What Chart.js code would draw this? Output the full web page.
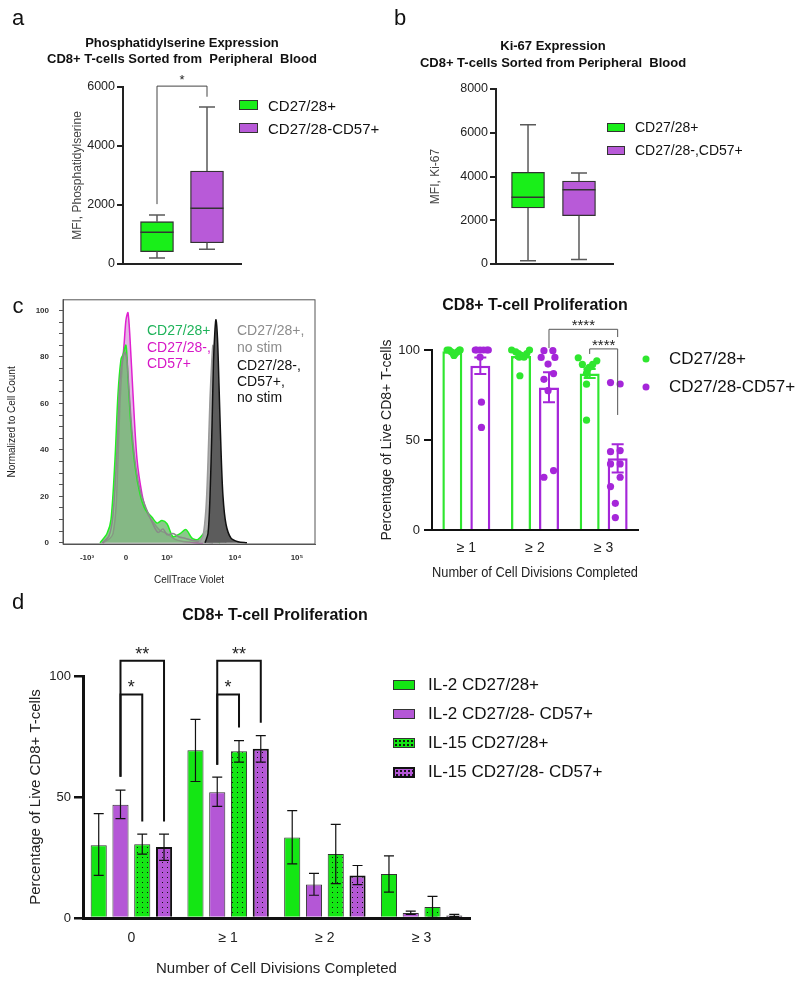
<!DOCTYPE html>
<html>
<head>
<meta charset="utf-8">
<script src="https://cdn.jsdelivr.net/npm/chart.js@4.4.1/dist/chart.umd.min.js"></script>
<style>
  body { margin: 0; background: #fff; font-family: "Liberation Sans", Arial, sans-serif; }
  #page { position: relative; width: 800px; height: 983px; overflow: hidden; }
  canvas { position: absolute; }
  .t { position: absolute; white-space: pre; transform: translate(-50%, -50%); color: #111; }
  .l { position: absolute; white-space: pre; transform: translateY(-50%); color: #111; }
  .sw { position: absolute; box-sizing: border-box; border: 1px solid #333; }
  .dot { position: absolute; width: 7px; height: 7px; border-radius: 50%; transform: translate(-50%, -50%); }
</style>
</head>
<body>
<div id="page">
  <canvas id="ps" width="400" height="280" style="left:0;top:0"></canvas>
  <canvas id="ki" width="400" height="280" style="left:400px;top:0"></canvas>
  <canvas id="hist" width="330" height="305" style="left:0;top:285px"></canvas>
  <canvas id="prolif" width="460" height="305" style="left:340px;top:285px"></canvas>
  <canvas id="donors" width="460" height="305" style="left:340px;top:285px"></canvas>
  <canvas id="cyto" width="800" height="393" style="left:0;top:590px"></canvas>

  <!-- panel letters -->
  <div class="t" style="left:18px;top:18px;font-size:22px">a</div>
  <div class="t" style="left:400px;top:18px;font-size:22px">b</div>
  <div class="t" style="left:18px;top:306px;font-size:22px">c</div>
  <div class="t" style="left:18px;top:602px;font-size:22px">d</div>

  <!-- titles -->
  <div class="t" style="left:182px;top:42px;font-size:13px;font-weight:bold">Phosphatidylserine Expression</div>
  <div class="t" style="left:182px;top:58px;font-size:13px;font-weight:bold">CD8+ T-cells Sorted from  Peripheral  Blood</div>
  <div class="t" style="left:553px;top:45px;font-size:13px;font-weight:bold">Ki-67 Expression</div>
  <div class="t" style="left:553px;top:62px;font-size:13px;font-weight:bold">CD8+ T-cells Sorted from Peripheral  Blood</div>
  <div class="t" style="left:535px;top:305px;font-size:16px;font-weight:bold">CD8+ T-cell Proliferation</div>
  <div class="t" style="left:275px;top:615px;font-size:16px;font-weight:bold">CD8+ T-cell Proliferation</div>

  <!-- legends a / b -->
  <div class="sw" style="left:239px;top:100px;width:19px;height:10px;background:#19ef19"></div>
  <div class="l" style="left:268px;top:105px;font-size:15px">CD27/28+</div>
  <div class="sw" style="left:239px;top:123px;width:19px;height:10px;background:#b85ad8"></div>
  <div class="l" style="left:268px;top:128px;font-size:15px">CD27/28-CD57+</div>

  <div class="sw" style="left:607px;top:123px;width:18px;height:9px;background:#19ef19"></div>
  <div class="l" style="left:635px;top:127px;font-size:14px">CD27/28+</div>
  <div class="sw" style="left:607px;top:146px;width:18px;height:9px;background:#b85ad8"></div>
  <div class="l" style="left:635px;top:150px;font-size:14px">CD27/28-,CD57+</div>

  <!-- histogram labels -->
  <div class="l" style="left:147px;top:330px;font-size:14px;color:#1fb35a">CD27/28+</div>
  <div class="l" style="left:147px;top:347px;font-size:14px;color:#d616c6">CD27/28-,</div>
  <div class="l" style="left:147px;top:363px;font-size:14px;color:#d616c6">CD57+</div>
  <div class="l" style="left:237px;top:330px;font-size:14px;color:#8c8c8c">CD27/28+,</div>
  <div class="l" style="left:237px;top:347px;font-size:14px;color:#8c8c8c">no stim</div>
  <div class="l" style="left:237px;top:365px;font-size:14px">CD27/28-,</div>
  <div class="l" style="left:237px;top:381px;font-size:14px">CD57+,</div>
  <div class="l" style="left:237px;top:397px;font-size:14px">no stim</div>

  <!-- legend c right -->
  <div class="dot" style="left:646px;top:359px;background:#2fe62f"></div>
  <div class="l" style="left:669px;top:359px;font-size:17px">CD27/28+</div>
  <div class="dot" style="left:646px;top:387px;background:#a526d9"></div>
  <div class="l" style="left:669px;top:387px;font-size:17px">CD27/28-CD57+</div>

  <!-- legend d -->
  <div class="sw" style="left:393px;top:680px;width:22px;height:10px;background:#14e614"></div>
  <div class="l" style="left:428px;top:685px;font-size:17px">IL-2 CD27/28+</div>
  <div class="sw" style="left:393px;top:709px;width:22px;height:10px;background:#b457d6"></div>
  <div class="l" style="left:428px;top:714px;font-size:17px">IL-2 CD27/28- CD57+</div>
  <div class="sw" style="left:393px;top:738px;width:22px;height:10px;background:radial-gradient(circle, #111 0.7px, transparent 1px) 0 0/4px 4px, #14e614"></div>
  <div class="l" style="left:428px;top:743px;font-size:17px">IL-15 CD27/28+</div>
  <div class="sw" style="left:393px;top:767px;width:22px;height:11px;border:2px solid #111;background:radial-gradient(circle, #111 0.7px, transparent 1px) 0 0/4px 4px, #b457d6"></div>
  <div class="l" style="left:428px;top:772px;font-size:17px">IL-15 CD27/28- CD57+</div>
</div>

<script>
Chart.defaults.font.family = '"Liberation Sans", Arial, sans-serif';
Chart.defaults.color = '#222';
Chart.defaults.animation = false;

// ---- a: phosphatidylserine box plot
const boxGroups = ['CD27/28+', 'CD27/28-CD57+'];
const psMin = [200, 500];
const psQ1 = [420, 720];
const psMed = [1075, 1890];
const psQ3 = [1435, 3150];
const psMax = [1660, 5320];

// ---- b: Ki-67 box plot
const kiMin = [150, 210];
const kiQ1 = [2560, 2210];
const kiMed = [3050, 3400];
const kiQ3 = [4190, 3790];
const kiMax = [6370, 4160];

// ---- c left: CellTrace Violet histogram (x in display channels)
const histTickPos = [24, 63, 104, 172, 234];
const histTickText = ['-10³', '0', '10³', '10⁴', '10⁵'];
const greenX = [37, 44, 48, 52, 55, 58, 60, 63, 65, 68, 72, 77, 82, 89, 94, 99, 104, 110, 117, 123, 129, 135, 144, 150, 157];
const greenY = [0, 4, 10, 36, 64, 79, 81, 85, 71, 50, 33, 21, 14.5, 11, 8.5, 9.6, 8.2, 2.7, 4, 5.7, 2, 1.5, 5.2, 2, 0];
const magentaX = [40, 47, 50, 53, 55, 57, 59, 61, 63, 65, 67, 70, 74, 79, 84, 90, 97, 104, 112, 120, 128, 140];
const magentaY = [0, 2, 4, 15, 36, 60, 75, 85, 96, 99, 88, 64, 36, 21, 13, 9, 5.3, 4, 1.5, 0.6, 0.3, 0];
const grayX = [39, 46, 50, 54, 57, 60, 62, 64, 66, 69, 73, 78, 84, 90, 95, 100, 104, 110, 116, 122, 130, 140, 150];
const grayY = [0, 3, 12, 40, 70, 80, 82, 78, 66, 48, 32, 21, 14, 8, 4.5, 6, 3.5, 4, 2.5, 2, 1, 0.5, 0];
const noStimHiX = [136, 140, 143, 145, 147, 149, 150, 152, 154, 156, 159, 163];
const noStimHiY = [0, 3, 15, 35, 62, 80, 85, 75, 45, 20, 5, 0];
const noStimLoX = [142, 145, 147, 149, 150.5, 152, 153, 154.5, 156, 158, 160, 163, 168, 175, 184];
const noStimLoY = [0, 4, 20, 50, 78, 92, 96, 88, 68, 40, 20, 8, 2, 0.5, 0];

// ---- c right: proliferation bars + individual donors
const divLabels = ['≥ 1', '≥ 2', '≥ 3'];
const hiMean = [99.3, 96.7, 87];
const hiLow = [99.0, 95.5, 84.5];
const hiHigh = [99.6, 97.9, 89.5];
const loMean = [91.3, 79.2, 39.8];
const loLow = [86.7, 71, 32];
const loHigh = [95.9, 87.6, 47.6];
const dotsHiX = [-0.28, -0.25, -0.22, -0.19, -0.18, -0.16, -0.13, -0.10, -0.09,
                 0.66, 0.72, 0.76, 0.80, 0.84, 0.88, 0.92, 0.77, 0.78,
                 1.63, 1.90, 1.69, 1.84, 1.79, 1.76, 1.75, 1.75, 1.75];
const dotsHiY = [100, 100, 99, 98, 97, 98, 99, 100, 100,
                 100, 99, 98, 97, 96, 98, 100, 96, 85.7,
                 95.7, 94, 92, 92, 90.4, 89, 87, 81, 61];
const dotsLoX = [0.13, 0.15, 0.20, 0.25, 0.30, 0.32, 0.20, 0.22, 0.22,
                 1.13, 1.26, 1.09, 1.29, 1.19, 1.27, 1.13, 1.19, 1.27, 1.13,
                 2.10, 2.24, 2.10, 2.24, 2.10, 2.24, 2.24, 2.10, 2.17, 2.17];
const dotsLoY = [100, 100, 100, 100, 100, 100, 96, 71, 57,
                 99.6, 99.6, 95.9, 95.9, 92.2, 86.9, 83.7, 77.4, 33, 29.3,
                 81.9, 81.1, 43.5, 44.1, 36.7, 36.7, 29.3, 24.1, 14.8, 6.9];

// ---- d: IL-2 vs IL-15 proliferation
const dLabels = ['0', '≥ 1', '≥ 2', '≥ 3'];
const il2HiMean = [30.1, 69.3, 33.3, 18.2];
const il2HiLow = [17.6, 56.4, 22.4, 10.7];
const il2HiHigh = [43.1, 82.1, 44.4, 25.7];
const il2LoMean = [46.8, 52.0, 13.8, 2.1];
const il2LoLow = [41.1, 46.1, 9.4, 1.5];
const il2LoHigh = [52.8, 58.2, 18.4, 2.8];
const il15HiMean = [30.5, 68.9, 26.4, 4.5];
const il15HiLow = [26.4, 64.4, 14.2, 0.3];
const il15HiHigh = [34.7, 73.3, 38.7, 8.9];
const il15LoMean = [29.3, 69.9, 17.6, 1.0];
const il15LoLow = [23.8, 64.4, 13.8, 0.6];
const il15LoHigh = [34.7, 75.4, 21.7, 1.5];

const GREEN_BOX = '#19ef19', PURPLE_BOX = '#b85ad8';
const GREEN_C = '#2fe62f', PURPLE_C = '#a526d9';
const GREEN_D = '#14e614', PURPLE_D = '#b457d6';

function fixWidth(w) { return s => { s.width = w; }; }
function fixHeight(h) { return s => { s.height = h; }; }

function bracket(ctx, xL, xR, yL, yTop, yR) {
    ctx.beginPath();
    ctx.moveTo(xL, yL);
    ctx.lineTo(xL, yTop);
    ctx.lineTo(xR, yTop);
    ctx.lineTo(xR, yR);
    ctx.stroke();
}

function stars(ctx, text, x, y, size) {
    ctx.font = size + 'px "Liberation Sans", Arial, sans-serif';
    ctx.fillStyle = '#222';
    ctx.textAlign = 'center';
    ctx.textBaseline = 'alphabetic';
    ctx.fillText(text, x, y);
}

function errorBar(ctx, x, yLo, yHi, cap) {
    ctx.beginPath();
    ctx.moveTo(x, yLo); ctx.lineTo(x, yHi);
    ctx.moveTo(x - cap, yLo); ctx.lineTo(x + cap, yLo);
    ctx.moveTo(x - cap, yHi); ctx.lineTo(x + cap, yHi);
    ctx.stroke();
}

// whiskers + median line for the floating-bar boxes
function whiskerPlugin(mins, meds, maxs, q1s, q3s) {
    return {
        id: 'whiskers',
        afterDatasetsDraw(chart) {
            const ctx = chart.ctx, y = chart.scales.y;
            ctx.save();
            chart.getDatasetMeta(0).data.forEach((bar, i) => {
                const x = bar.x, half = bar.width / 2;
                ctx.strokeStyle = '#5a5a5a';
                ctx.lineWidth = 1.5;
                ctx.beginPath();
                ctx.moveTo(x, y.getPixelForValue(q3s[i])); ctx.lineTo(x, y.getPixelForValue(maxs[i]));
                ctx.moveTo(x - 8, y.getPixelForValue(maxs[i])); ctx.lineTo(x + 8, y.getPixelForValue(maxs[i]));
                ctx.moveTo(x, y.getPixelForValue(q1s[i])); ctx.lineTo(x, y.getPixelForValue(mins[i]));
                ctx.moveTo(x - 8, y.getPixelForValue(mins[i])); ctx.lineTo(x + 8, y.getPixelForValue(mins[i]));
                ctx.stroke();
                ctx.strokeStyle = '#333';
                ctx.beginPath();
                ctx.moveTo(x - half, y.getPixelForValue(meds[i])); ctx.lineTo(x + half, y.getPixelForValue(meds[i]));
                ctx.stroke();
            });
            ctx.restore();
        }
    };
}

function boxChart(q1, q3, xMin, xMax, yMax, pad, yWidth, yTitle) {
    return {
        type: 'bar',
        data: {
            datasets: [{
                data: boxGroups.map((g, i) => ({ x: i, y: [q1[i], q3[i]] })),
                backgroundColor: [GREEN_BOX, PURPLE_BOX],
                borderColor: '#333',
                borderWidth: 1.3,
                borderSkipped: false,
                barThickness: 33
            }]
        },
        options: {
            responsive: false,
            layout: { padding: pad },
            plugins: { legend: { display: false }, tooltip: { enabled: false } },
            scales: {
                x: {
                    type: 'linear', min: xMin, max: xMax, offset: false,
                    ticks: { display: false },
                    grid: { display: false, drawTicks: false, offset: false },
                    border: { color: '#222', width: 2 },
                    afterFit: fixHeight(16)
                },
                y: {
                    min: 0, max: yMax,
                    ticks: { stepSize: 2000, font: { size: 12.5 }, color: '#222', padding: 2, callback: v => String(v) },
                    grid: { drawOnChartArea: false, tickLength: 6, color: '#222', lineWidth: 2 },
                    border: { color: '#222', width: 2 },
                    title: { display: true, text: yTitle, font: { size: 12 }, color: '#444' },
                    afterFit: fixWidth(yWidth)
                }
            }
        }
    };
}

// a
const psCfg = boxChart(psQ1, psQ3, -0.68, 1.68, 6000, { left: 66, top: 87, right: 159, bottom: 0 }, 57, 'MFI, Phosphatidylserine');
psCfg.plugins = [whiskerPlugin(psMin, psMed, psMax, psQ1, psQ3), {
    id: 'psSig',
    afterDatasetsDraw(chart) {
        const ctx = chart.ctx, y = chart.scales.y, bars = chart.getDatasetMeta(0).data;
        ctx.save();
        ctx.strokeStyle = '#444';
        ctx.lineWidth = 1;
        bracket(ctx, bars[0].x, bars[1].x, y.getPixelForValue(2030), y.getPixelForValue(6030), y.getPixelForValue(5670));
        stars(ctx, '*', (bars[0].x + bars[1].x) / 2, y.getPixelForValue(6030) - 2, 13);
        ctx.restore();
    }
}];
new Chart(document.getElementById('ps'), psCfg);

// b
const kiCfg = boxChart(kiQ1, kiQ3, -0.628, 1.667, 8000, { left: 24, top: 89, right: 187, bottom: 0 }, 72, 'MFI, Ki-67');
kiCfg.plugins = [whiskerPlugin(kiMin, kiMed, kiMax, kiQ1, kiQ3)];
new Chart(document.getElementById('ki'), kiCfg);

// c left: histogram overlay
function curve(xs, ys) { return xs.map((x, i) => ({ x: x, y: ys[i] })); }
new Chart(document.getElementById('hist'), {
    type: 'line',
    data: {
        datasets: [
            { data: curve(noStimLoX, noStimLoY), borderColor: '#111', backgroundColor: '#5c5c5c', fill: 'origin', order: 0 },
            { data: curve(noStimHiX, noStimHiY), borderColor: '#9a9a9a', backgroundColor: 'rgba(165,165,165,0.9)', fill: 'origin', order: 1 },
            { data: curve(grayX, grayY), borderColor: '#8a8a8a', fill: false, order: 2 },
            { data: curve(greenX, greenY), borderColor: '#22ee22', backgroundColor: 'rgba(110,185,110,0.8)', fill: 'origin', order: 3 },
            { data: curve(magentaX, magentaY), borderColor: '#e020d0', backgroundColor: 'rgba(215,150,215,0.7)', fill: 'origin', order: 4 }
        ]
    },
    options: {
        responsive: false,
        layout: { padding: { left: 2, top: 8, right: 15, bottom: 0 } },
        elements: { point: { radius: 0 }, line: { borderWidth: 1.5, tension: 0.3 } },
        plugins: { legend: { display: false }, tooltip: { enabled: false } },
        scales: {
            x: {
                type: 'linear', min: 0, max: 252,
                afterBuildTicks: s => { s.ticks = histTickPos.map(v => ({ value: v })); },
                ticks: { autoSkip: false, maxRotation: 0, padding: 9, font: { size: 8, weight: 'bold' }, color: '#333',
                         callback: (v, i) => histTickText[i] },
                grid: { display: false, drawTicks: false },
                border: { color: '#555', width: 1 },
                title: { display: true, text: 'CellTrace Violet', font: { size: 10 }, color: '#222', padding: { top: 0, bottom: 4 } },
                afterFit: fixHeight(46)
            },
            y: {
                min: -0.5, max: 104.6,
                afterBuildTicks: s => {
                    const t = [];
                    for (let v = 0; v <= 100; v += 5) t.push({ value: v });
                    s.ticks = t;
                },
                ticks: { autoSkip: false, padding: 10, font: { size: 8, weight: 'bold' }, color: '#333',
                         callback: v => (v % 20 === 0 ? String(v) : '') },
                grid: { drawOnChartArea: false, tickLength: 4, color: '#555' },
                border: { color: '#555', width: 1 },
                title: { display: true, text: 'Normalized to Cell Count', font: { size: 10 }, color: '#222', padding: { top: 4, bottom: 0 } },
                afterFit: fixWidth(61)
            }
        }
    },
    plugins: [{
        id: 'frame',
        afterDraw(chart) {
            const a = chart.chartArea, ctx = chart.ctx;
            ctx.save();
            ctx.strokeStyle = '#555';
            ctx.lineWidth = 1;
            ctx.strokeRect(a.left, a.top, a.right - a.left, a.bottom - a.top);
            ctx.restore();
        }
    }]
});

// c right: hollow mean bars with SEM
const prolifChart = new Chart(document.getElementById('prolif'), {
    type: 'bar',
    data: {
        labels: divLabels,
        datasets: [
            { data: hiMean, backgroundColor: '#fff', borderColor: GREEN_C, borderWidth: 2.5, categoryPercentage: 0.815, barPercentage: 0.714 },
            { data: loMean, backgroundColor: '#fff', borderColor: PURPLE_C, borderWidth: 2.5, categoryPercentage: 0.815, barPercentage: 0.714 }
        ]
    },
    options: {
        responsive: false,
        layout: { padding: { left: 35, top: 65, right: 162, bottom: 0 } },
        plugins: { legend: { display: false }, tooltip: { enabled: false } },
        scales: {
            x: {
                ticks: { font: { size: 14 }, color: '#222', padding: 10 },
                grid: { display: false, drawTicks: false },
                border: { color: '#111', width: 2 },
                title: { display: true, text: 'Number of Cell Divisions Completed', font: { size: 15 }, color: '#222', padding: { top: 0, bottom: 8 } },
                afterFit: fixHeight(60)
            },
            y: {
                min: 0, max: 100,
                ticks: { stepSize: 50, font: { size: 13 }, color: '#222', padding: 4 },
                grid: { drawOnChartArea: false, tickLength: 8, color: '#111', lineWidth: 2 },
                border: { color: '#111', width: 2 },
                title: { display: true, text: 'Percentage of Live CD8+ T-cells', font: { size: 14 }, color: '#222' },
                afterFit: fixWidth(57)
            }
        }
    }
});

// individual donors on a transparent twin chart with the same plot area
new Chart(document.getElementById('donors'), {
    type: 'scatter',
    data: {
        datasets: [
            { data: curve(dotsHiX, dotsHiY), backgroundColor: GREEN_C, pointRadius: 3.6, borderWidth: 0, clip: false },
            { data: curve(dotsLoX, dotsLoY), backgroundColor: PURPLE_C, pointRadius: 3.6, borderWidth: 0, clip: false }
        ]
    },
    options: {
        responsive: false,
        layout: { padding: { left: 92, top: 65, right: 162, bottom: 60 } },
        plugins: { legend: { display: false }, tooltip: { enabled: false } },
        scales: {
            x: { type: 'linear', min: -0.5, max: 2.5, display: false },
            y: { min: 0, max: 100, display: false }
        }
    },
    plugins: [{
        id: 'prolifMarks',
        afterDatasetsDraw(chart) {
            const ctx = chart.ctx, y = chart.scales.y;
            const hi = prolifChart.getDatasetMeta(0).data, lo = prolifChart.getDatasetMeta(1).data;
            ctx.save();
            ctx.lineWidth = 2;
            ctx.strokeStyle = GREEN_C;
            hi.forEach((b, i) => errorBar(ctx, b.x, y.getPixelForValue(hiLow[i]), y.getPixelForValue(hiHigh[i]), 6));
            ctx.strokeStyle = PURPLE_C;
            lo.forEach((b, i) => errorBar(ctx, b.x, y.getPixelForValue(loLow[i]), y.getPixelForValue(loHigh[i]), 6));
            ctx.strokeStyle = '#555';
            ctx.lineWidth = 1;
            bracket(ctx, lo[1].x, lo[2].x, y.getPixelForValue(101.1), y.getPixelForValue(111.5), y.getPixelForValue(107.2));
            bracket(ctx, hi[2].x, lo[2].x, y.getPixelForValue(97.8), y.getPixelForValue(100.6), y.getPixelForValue(63.9));
            stars(ctx, '****', (lo[1].x + lo[2].x) / 2, y.getPixelForValue(111.5) + 1, 15);
            stars(ctx, '****', (hi[2].x + lo[2].x) / 2, y.getPixelForValue(100.6) + 1, 15);
            ctx.restore();
        }
    }]
});

// d: cytokine comparison with stippled IL-15 bars
function dotPattern(color) {
    const c = document.createElement('canvas');
    c.width = 5; c.height = 5;
    const g = c.getContext('2d');
    g.fillStyle = color;
    g.fillRect(0, 0, 5, 5);
    g.fillStyle = '#111';
    g.fillRect(2, 2, 1, 1);
    return g.createPattern(c, 'repeat');
}

const dBar = { categoryPercentage: 0.9, barPercentage: 0.74, borderColor: '#333', borderWidth: 1 };
const dErr = [[il2HiLow, il2HiHigh], [il2LoLow, il2LoHigh], [il15HiLow, il15HiHigh], [il15LoLow, il15LoHigh]];

new Chart(document.getElementById('cyto'), {
    type: 'bar',
    data: {
        labels: dLabels,
        datasets: [
            Object.assign({ data: il2HiMean, backgroundColor: GREEN_D }, dBar),
            Object.assign({ data: il2LoMean, backgroundColor: PURPLE_D }, dBar),
            Object.assign({ data: il15HiMean, backgroundColor: dotPattern(GREEN_D) }, dBar),
            Object.assign({}, dBar, { data: il15LoMean, backgroundColor: dotPattern(PURPLE_D), borderColor: '#111', borderWidth: 2 })
        ]
    },
    options: {
        responsive: false,
        layout: { padding: { left: 22.6, top: 86, right: 330, bottom: 0 } },
        plugins: { legend: { display: false }, tooltip: { enabled: false } },
        scales: {
            x: {
                ticks: { font: { size: 14 }, color: '#222', padding: 12 },
                grid: { display: false, drawTicks: false },
                border: { color: '#111', width: 3 },
                title: { display: true, text: 'Number of Cell Divisions Completed', font: { size: 15 }, color: '#222', padding: { top: 0, bottom: 5.6 } },
                afterFit: fixHeight(65)
            },
            y: {
                min: 0, max: 100,
                ticks: { stepSize: 50, font: { size: 13 }, color: '#222', padding: 3 },
                grid: { drawOnChartArea: false, tickLength: 9, color: '#111', lineWidth: 2.5 },
                border: { color: '#111', width: 3 },
                title: { display: true, text: 'Percentage of Live CD8+ T-cells', font: { size: 15 }, color: '#222' },
                afterFit: fixWidth(60.4)
            }
        }
    },
    plugins: [{
        id: 'cytoMarks',
        afterDatasetsDraw(chart) {
            const ctx = chart.ctx, y = chart.scales.y;
            const metas = [0, 1, 2, 3].map(d => chart.getDatasetMeta(d).data);
            ctx.save();
            ctx.strokeStyle = '#111';
            ctx.lineWidth = 1.2;
            metas.forEach((bars, d) => bars.forEach((b, i) =>
                errorBar(ctx, b.x, y.getPixelForValue(dErr[d][0][i]), y.getPixelForValue(dErr[d][1][i]), 5)));
            ctx.lineWidth = 2;
            // group "0"
            bracket(ctx, metas[1][0].x, metas[3][0].x, y.getPixelForValue(58.4), y.getPixelForValue(106.3), y.getPixelForValue(39.9));
            bracket(ctx, metas[1][0].x, metas[2][0].x, y.getPixelForValue(58.4), y.getPixelForValue(92.4), y.getPixelForValue(39.9));
            // group "≥ 1"
            bracket(ctx, metas[1][1].x, metas[3][1].x, y.getPixelForValue(63.3), y.getPixelForValue(106.3), y.getPixelForValue(80.7));
            bracket(ctx, metas[1][1].x, metas[2][1].x, y.getPixelForValue(63.3), y.getPixelForValue(92.4), y.getPixelForValue(78.7));
            stars(ctx, '**', (metas[1][0].x + metas[3][0].x) / 2, y.getPixelForValue(106.3) - 1, 18);
            stars(ctx, '*', (metas[1][0].x + metas[2][0].x) / 2, y.getPixelForValue(92.4) - 1, 18);
            stars(ctx, '**', (metas[1][1].x + metas[3][1].x) / 2, y.getPixelForValue(106.3) - 1, 18);
            stars(ctx, '*', (metas[1][1].x + metas[2][1].x) / 2, y.getPixelForValue(92.4) - 1, 18);
            ctx.restore();
        }
    }]
});
</script>
</body>
</html>
